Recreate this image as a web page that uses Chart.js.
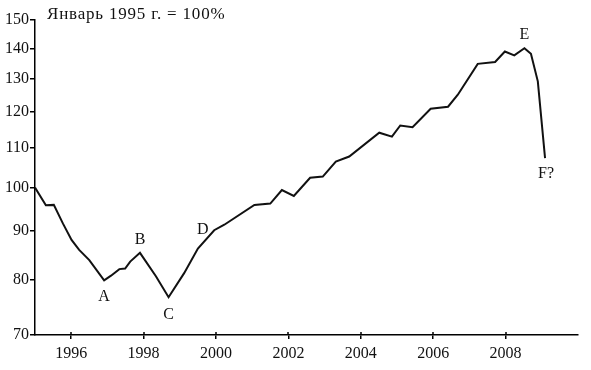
<!DOCTYPE html>
<html>
<head>
<meta charset="utf-8">
<script src="https://cdn.jsdelivr.net/npm/chart.js@4.4.1/dist/chart.umd.min.js"></script>
<style>
  html, body { margin: 0; padding: 0; background: #fff; }
  #wrap { width: 591px; height: 370px; }
</style>
</head>
<body>
<div id="wrap"><canvas id="c" width="591" height="370"></canvas></div>
<script>
// ---- data ----
const years = [
  1995.00, 1995.30, 1995.52, 1995.77, 1996.01, 1996.22, 1996.50, 1996.91,
  1997.10, 1997.33, 1997.49, 1997.63, 1997.90, 1998.34, 1998.69, 1999.12,
  1999.50, 1999.95, 2000.23, 2001.06, 2001.50, 2001.82, 2002.15, 2002.60,
  2002.95, 2003.31, 2003.68, 2004.51, 2004.86, 2005.09, 2005.43, 2005.93,
  2006.41, 2006.68, 2007.23, 2007.71, 2007.98, 2008.24, 2008.52, 2008.70,
  2008.89, 2009.09
];
const indexValues = [
  100.0, 95.8, 95.9, 91.7, 88.1, 86.0, 83.9, 79.9,
  80.8, 82.1, 82.2, 83.6, 85.4, 80.7, 76.7, 81.3,
  86.3, 90.2, 91.4, 95.9, 96.2, 99.4, 98.0, 102.4,
  102.7, 106.5, 107.8, 114.2, 113.1, 116.2, 115.7, 121.0,
  121.6, 125.2, 134.9, 135.5, 139.0, 137.7, 140.1, 138.2,
  129.3, 107.4
];
const xTicks = [1996, 1998, 2000, 2002, 2004, 2006, 2008];
const yTicks = [70, 80, 90, 100, 110, 120, 130, 140, 150];
const pointLetters = ['A', 'B', 'C', 'D', 'E', 'F?'];
const pointIndex = [7, 12, 14, 16, 38, 41];
const titleText = 'Январь 1995 г. = 100%';

// ---- styles ----
const FONT = '"Liberation Serif", "DejaVu Serif", serif';
const letterOffsets = [[0, 16], [0, -13], [0, 18], [5, -19], [0, -13], [1, 16]];

const decor = {
  id: 'decor',
  afterDraw(chart) {
    const ctx = chart.ctx;
    const xs = chart.scales.x, ys = chart.scales.y;
    const area = chart.chartArea;
    ctx.save();
    // tick stubs above the x axis
    ctx.strokeStyle = '#000';
    ctx.lineWidth = 1.5;
    xs.ticks.forEach(t => {
      const px = Math.round(xs.getPixelForValue(t.value));
      ctx.beginPath();
      ctx.moveTo(px, area.bottom - 3);
      ctx.lineTo(px, area.bottom);
      ctx.stroke();
    });
    // title
    ctx.fillStyle = '#111';
    ctx.font = '17px ' + FONT;
    ctx.textAlign = 'left';
    ctx.textBaseline = 'alphabetic';
    if ('letterSpacing' in ctx) ctx.letterSpacing = '0.8px';
    ctx.fillText(titleText, area.left + 12, 19);
    if ('letterSpacing' in ctx) ctx.letterSpacing = '0px';
    // letters
    ctx.font = '16px ' + FONT;
    ctx.textAlign = 'center';
    ctx.textBaseline = 'middle';
    pointLetters.forEach((L, i) => {
      const k = pointIndex[i];
      const px = xs.getPixelForValue(years[k]) + letterOffsets[i][0];
      const py = ys.getPixelForValue(indexValues[k]) + letterOffsets[i][1];
      ctx.fillText(L, px, py);
    });
    ctx.restore();
  }
};

new Chart(document.getElementById('c'), {
  type: 'line',
  data: {
    datasets: [{
      data: years.map((y, i) => ({ x: y, y: indexValues[i] })),
      borderColor: '#111',
      borderWidth: 2,
      pointRadius: 0,
      tension: 0,
      fill: false
    }]
  },
  options: {
    responsive: false,
    animation: false,
    layout: { padding: { top: 20, right: 13, left: 0, bottom: 0 } },
    plugins: { legend: { display: false }, tooltip: { enabled: false }, title: { display: false } },
    scales: {
      x: {
        type: 'linear',
        min: 1995,
        max: 2010,
        afterBuildTicks: s => { s.ticks = xTicks.map(v => ({ value: v })); },
        afterFit: s => { s.height = 35; },
        border: { display: true, color: '#000', width: 1.5 },
        grid: { drawOnChartArea: false, drawTicks: true, tickLength: 4, color: '#000', lineWidth: 1.5 },
        ticks: {
          color: '#111',
          font: { family: FONT, size: 16 },
          padding: 5,
          maxRotation: 0,
          autoSkip: false,
          callback: v => String(v)
        }
      },
      y: {
        type: 'logarithmic',
        min: 70,
        max: 150,
        afterBuildTicks: s => { s.ticks = yTicks.map(v => ({ value: v })); },
        afterFit: s => { s.width = 35; },
        border: { display: true, color: '#000', width: 1.5 },
        grid: { drawOnChartArea: false, drawTicks: true, tickLength: 5, color: '#000', lineWidth: 1.5 },
        ticks: {
          color: '#111',
          font: { family: FONT, size: 16 },
          padding: 1,
          autoSkip: false,
          callback: v => String(v)
        }
      }
    }
  },
  plugins: [decor]
});
</script>
</body>
</html>
